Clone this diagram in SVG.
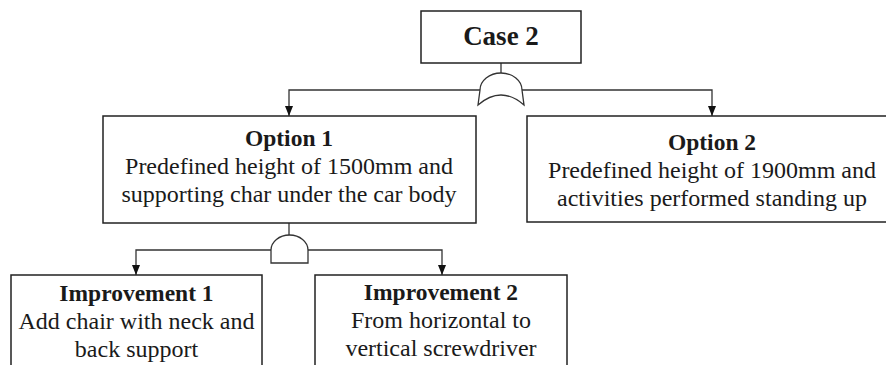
<svg xmlns="http://www.w3.org/2000/svg" width="886" height="365" viewBox="0 0 886 365" font-family="Liberation Serif, Times New Roman, serif">
<style>
.box{fill:#fff;stroke:#222;stroke-width:1.5}
.gate{fill:#fff;stroke:#333;stroke-width:1.3}
.ln{fill:none;stroke:#333;stroke-width:1.3}
text{fill:#1a1a1a;text-anchor:middle}
.t{font-weight:bold;font-size:23.5px}
.b{font-size:24px}
</style>
<defs>
<marker id="ah" viewBox="0 0 10 10" refX="10" refY="5" markerWidth="10" markerHeight="10" markerUnits="userSpaceOnUse" orient="auto">
<path d="M0,1 L10,5 L0,9 Z" fill="#111"/>
</marker>
</defs>
<g id="connectors">
<path class="ln" d="M501,63 V74"/>
<path class="ln" d="M480,90 H289 V116" marker-end="url(#ah)"/>
<path class="ln" d="M522,90 H712 V116" marker-end="url(#ah)"/>
<path class="ln" d="M289,223 V236"/>
<path class="ln" d="M271,250 H136 V275" marker-end="url(#ah)"/>
<path class="ln" d="M308,250 H442 V275" marker-end="url(#ah)"/>
</g>
<g id="gate-or">
<path class="gate" d="M478,105 L480,90 A21,17 0 0 1 522,90 L524,105 Q501,85 478,105 Z"/>
</g>
<g id="gate-and">
<path class="gate" d="M271,263 L271,250 A18.5,15 0 0 1 308,250 L308,263 Z"/>
</g>
<g id="case2">
<rect class="box" x="421" y="11" width="160" height="52"/>
<text x="501" y="45" font-family="Liberation Serif, serif" font-weight="bold" font-size="27">Case 2</text>
</g>
<g id="option1" font-family="Liberation Serif, serif">
<rect class="box" x="103" y="116" width="373" height="107"/>
<text class="t" x="289" y="146">Option 1</text>
<text class="b" x="289" y="174">Predefined height of 1500mm and</text>
<text class="b" x="289" y="202">supporting char under the car body</text>
</g>
<g id="option2" font-family="Liberation Serif, serif">
<rect class="box" x="527" y="116" width="370" height="106"/>
<text class="t" x="712" y="150">Option 2</text>
<text class="b" x="712" y="178">Predefined height of 1900mm and</text>
<text class="b" x="712" y="206">activities performed standing up</text>
</g>
<g id="improvement1" font-family="Liberation Serif, serif">
<rect class="box" x="11" y="275" width="251" height="110"/>
<text class="t" x="136.5" y="301">Improvement 1</text>
<text class="b" x="136.5" y="329">Add chair with neck and</text>
<text class="b" x="136.5" y="357">back support</text>
</g>
<g id="improvement2" font-family="Liberation Serif, serif">
<rect class="box" x="315" y="275" width="252" height="110"/>
<text class="t" x="441" y="300">Improvement 2</text>
<text class="b" x="441" y="328">From horizontal to</text>
<text class="b" x="441" y="356">vertical screwdriver</text>
</g>
</svg>
